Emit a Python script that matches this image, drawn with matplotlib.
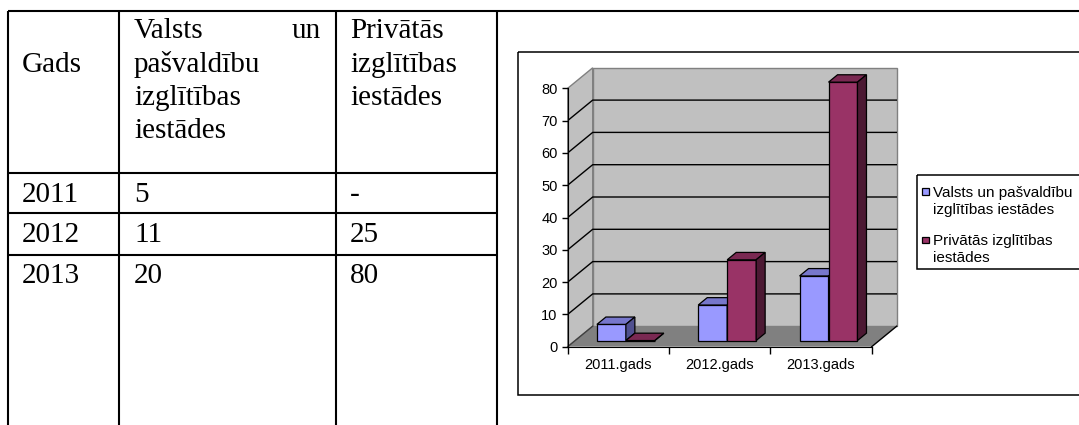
import matplotlib
matplotlib.use("Agg")
import matplotlib.pyplot as plt
from matplotlib.patches import Polygon, Rectangle
import numpy as np

# data
years = [2011, 2012, 2013]
categories = ["2011.gads", "2012.gads", "2013.gads"]
state_schools = [5, 11, 20]
private_schools = [0, 25, 80]   # 2011 has "-" in the table
series_labels = ["Valsts un pašvaldību\nizglītības iestādes",
                 "Privātās izglītības\niestādes"]
y_ticks = list(range(0, 81, 10))

W, H = 1079, 425
fig = plt.figure(figsize=(W / 100, H / 100), dpi=100)

SERIF = "Liberation Serif"
SANS = "Liberation Sans"

# background axes in pixel units (document table + chart frame)
bg = fig.add_axes([0, 0, 1, 1])
bg.set_xlim(0, W)
bg.set_ylim(H, 0)
bg.axis("off")


def line(xs, ys, lw=1.5, color="black", **kw):
    bg.plot(xs, ys, color=color, lw=lw, solid_capstyle="butt", **kw)


# table grid
line([8, W], [11, 11])
for xv in [8, 119, 336, 497]:
    line([xv, xv], [11, H])
for yv in [173, 213, 255]:
    line([8, 497], [yv, yv])

tfont = dict(family=SERIF, fontsize=21, va="baseline", color="black")
bg.text(22, 71.5, "Gads", **tfont)
bg.text(134, 37.5, "Valsts", **tfont)
bg.text(321, 37.5, "un", ha="right", **tfont)
for yv, s in zip([71.5, 105, 138.5], ["pašvaldību", "izglītības", "iestādes"]):
    bg.text(134, yv, s, **tfont)
for yv, s in zip([37.5, 71.5, 105], ["Privātās", "izglītības", "iestādes"]):
    bg.text(350, yv, s, **tfont)

row_base = [201.5, 241.5, 283]
for yb, yr, st, pr in zip(row_base, years, state_schools, private_schools):
    bg.text(22, yb, str(yr), **tfont)
    bg.text(134, yb, str(st), **tfont)
    bg.text(350, yb, "-" if pr == 0 else str(pr), **tfont)

# chart frame
bg.add_patch(Rectangle((518, 52), 700, 343, fill=False, ec="black", lw=1.1))

# chart axes: front plane in data units, depth added as an offset
x0_px, y0_px = 567.7, 346.7
cat_px, unit_px = 101.33, 3.23
DX_px, DY_px = 25.0, 20.5
n = len(categories)
ymax = 80
DX = DX_px / cat_px
DY = DY_px / unit_px

ax = fig.add_axes([x0_px / W, (H - y0_px) / H,
                   (n * cat_px + DX_px) / W, (ymax * unit_px + DY_px) / H])
ax.set_xlim(0, n + DX)
ax.set_ylim(0, ymax + DY)
ax.patch.set_alpha(0)

wall = "#C0C0C0"
edge = "#808080"
ax.add_patch(Rectangle((DX, DY), n, ymax, fc=wall, ec=edge, lw=1, zorder=0, clip_on=False))
ax.add_patch(Polygon([(0, 0), (DX, DY), (DX, ymax + DY), (0, ymax)],
                     fc=wall, ec=edge, lw=1, zorder=0, clip_on=False))
ax.add_patch(Polygon([(0, 0), (n, 0), (n + DX, DY), (DX, DY)],
                     fc="#808080", ec="none", zorder=1, clip_on=False))
ax.plot([n, n + DX], [0, DY], color="black", lw=1, zorder=1.2, clip_on=False)
ax.plot([0, DX], [0, DY], color="#404040", lw=1, zorder=1.2, clip_on=False)
for v in y_ticks[1:-1]:
    ax.plot([0, DX, n + DX], [v, v + DY, v + DY], color="black", lw=1, zorder=1.5)

for s in ["top", "right"]:
    ax.spines[s].set_visible(False)
ax.spines["left"].set_bounds(0, ymax)
ax.spines["bottom"].set_bounds(0, n)
ax.set_yticks(y_ticks)
ax.set_xticks(range(n + 1))
ax.set_xticklabels([])
ax.set_xticks(np.arange(n) + 0.5, minor=True)
ax.set_xticklabels(categories, minor=True)
ax.tick_params(axis="x", which="major", length=5, width=1, direction="out")
ax.tick_params(axis="x", which="minor", length=0, pad=8, labelsize=10.5)
ax.tick_params(axis="y", length=4, width=1, pad=3.2, labelsize=10.5)
for lab in ax.get_xticklabels(minor=True) + ax.get_yticklabels():
    lab.set_family(SANS)

# 3D-looking bars
w = 1 / 3.5
gap = (1 - 2 * w) / 2
d0, depth = 0.3, 0.36
fx, fy = d0 * DX, d0 * DY
sx, sy = depth * DX, depth * DY
x = np.arange(n)
styles = [("#9999FF", "#7777CC", "#50508F"),
          ("#993366", "#7A2952", "#4C1933")]
series = [state_schools, private_schools]

for k, (vals, (c_front, c_top, c_side)) in enumerate(zip(series, styles)):
    bars = ax.bar(x + gap + k * w + fx, vals, width=w, bottom=fy, align="edge",
                  color=c_front, edgecolor="black", lw=0.9)
    for i, rect in enumerate(bars):
        z = 3 + i * 2 + k
        rect.set_zorder(z)
        xl = rect.get_x()
        xr = xl + rect.get_width()
        yb = rect.get_y()
        yt = yb + rect.get_height()
        ax.add_patch(Polygon([(xl, yt), (xr, yt), (xr + sx, yt + sy), (xl + sx, yt + sy)],
                             fc=c_top, ec="black", lw=0.9, zorder=z))
        ax.add_patch(Polygon([(xr, yb), (xr + sx, yb + sy), (xr + sx, yt + sy), (xr, yt)],
                             fc=c_side, ec="black", lw=0.9, zorder=z))

# legend
bg.add_patch(Rectangle((916.7, 175), 300, 94, fill=False, ec="black", lw=1.1))
line_h = 1.25 * 11 * 100 / 72
for yc, lab, (c_front, _, _) in zip([191.7, 240], series_labels, styles):
    bg.add_patch(Rectangle((922, yc - 3.3), 6.6, 6.6, fc=c_front, ec="black", lw=0.9))
    bg.text(933, yc + line_h / 2, lab, family=SANS, fontsize=11, va="center",
            ha="left", linespacing=1.25)

fig.savefig("out.png", dpi=100)
